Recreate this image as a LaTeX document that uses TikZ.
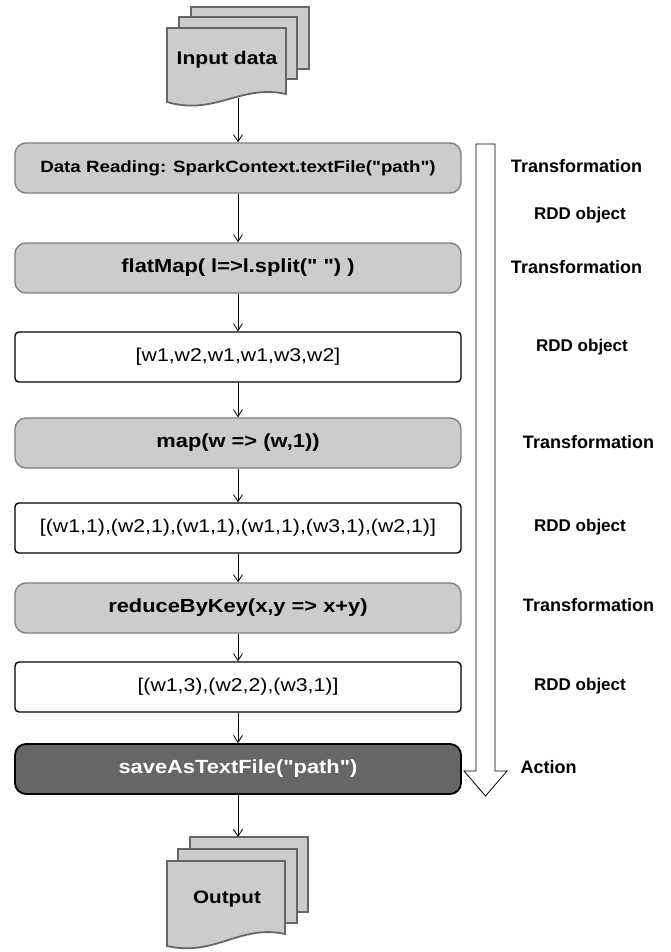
\documentclass[tikz,border=0pt]{standalone}
\usepackage{fontspec}
\setmainfont{Liberation Sans}
\newfontfamily\boxfont[FakeStretch=1.15]{Liberation Sans}
\usetikzlibrary{arrows.meta}
\definecolor{sfgrey}{HTML}{CCCCCC}
\definecolor{sfedge}{HTML}{808080}
\definecolor{sfdark}{HTML}{666666}

\begin{document}
\begin{tikzpicture}[x=1pt, y=-1pt,
      op/.style={draw=sfedge, fill=sfgrey, line width=1.4pt, rounded corners=11pt, minimum width=446pt, minimum height=50pt,
        font=\boxfont\bfseries\fontsize{19}{22}\selectfont},
      rdd/.style={draw=black, fill=white, line width=1.4pt, rounded corners=4pt, minimum width=446pt, minimum height=50pt,
        font=\boxfont\fontsize{18.5}{22}\selectfont},
      act/.style={op, draw=black, fill=sfdark, text=white, line width=1.8pt},
      doc/.style={draw=sfdark, fill=sfgrey, line width=1.8pt},
      lbl/.style={font=\bfseries\fontsize{18}{21}\selectfont},
      obj/.style={font=\bfseries\fontsize{17}{20}\selectfont},
      arr/.style={-{Straight Barb[length=7pt, width=9pt]}, line width=0.8pt}]
      \useasboundingbox (0,0) rectangle (670,952);
      % input pages
      \draw[doc] (191,7) rectangle (309,69);
      \draw[doc] (179,17) rectangle (297,79);
      \draw[doc] (167,28) -- (286,28) -- (286,94) .. controls (240,84) and (215,116) .. (167,102) -- cycle;
      \node[font=\boxfont\bfseries\fontsize{18.3}{22}\selectfont] (indata) at (227,60) {Input data};
      \coordinate (inbot) at (238,98);
      % steps
      \node[op, font=\boxfont\bfseries\fontsize{16.3}{20}\selectfont] (rd) at (238,168) {Data Reading: SparkContext.textFile("path")};
      \node[op] (fm) at (238,268) {flatMap( l=>l.split(" ") )};
      \node[rdd] (words) at (238,357) {[w1,w2,w1,w1,w3,w2]};
      \node[op] (mp) at (238,443) {map(w => (w,1))};
      \node[rdd] (pairs) at (238,528) {[(w1,1),(w2,1),(w1,1),(w1,1),(w3,1),(w2,1)]};
      \node[op] (rbk) at (238,608) {reduceByKey(x,y => x+y)};
      \node[rdd] (counts) at (238,687) {[(w1,3),(w2,2),(w3,1)]};
      \node[act] (save) at (238,769) {saveAsTextFile("path")};
      % output pages
      \draw[doc] (190,837) rectangle (308,912);
      \draw[doc] (178,849) rectangle (297,923);
      \draw[doc] (167,861) -- (285,861) -- (285,934) .. controls (240,924) and (215,957) .. (167,946) -- cycle;
      \node[font=\boxfont\bfseries\fontsize{18}{22}\selectfont] (outdata) at (227,899) {Output};
      \coordinate (outtop) at (238,837);
      % connectors
      \draw[arr] (inbot) -- (rd.north); \draw[arr] (rd) -- (fm); \draw[arr] (fm) -- (words); \draw[arr] (words) -- (mp);
      \draw[arr] (mp) -- (pairs); \draw[arr] (pairs) -- (rbk); \draw[arr] (rbk) -- (counts); \draw[arr] (counts) -- (save);
      \draw[arr] (save.south) -- (outtop);
      % hollow flow arrow
      \draw[black, fill=white, line width=0.8pt] (476,144) -- (495,144) -- (495,771) -- (507,771) -- (485.5,796) -- (464,771) -- (476,771) -- cycle;
      % stage labels
      \node[lbl] (t1) at (576.5,166) {Transformation};
      \node[obj] (r1) at (580,215) {RDD object};
      \node[lbl] (t2) at (576.5,267) {Transformation};
      \node[obj] (r2) at (582,347) {RDD object};
      \node[lbl] (t3) at (588.5,442) {Transformation};
      \node[obj] (r3) at (580,527) {RDD object};
      \node[lbl] (t4) at (588.5,605) {Transformation};
      \node[obj] (r4) at (580,686) {RDD object};
      \node[lbl] (act) at (548.5,767) {Action};
    \end{tikzpicture}
\end{document}
